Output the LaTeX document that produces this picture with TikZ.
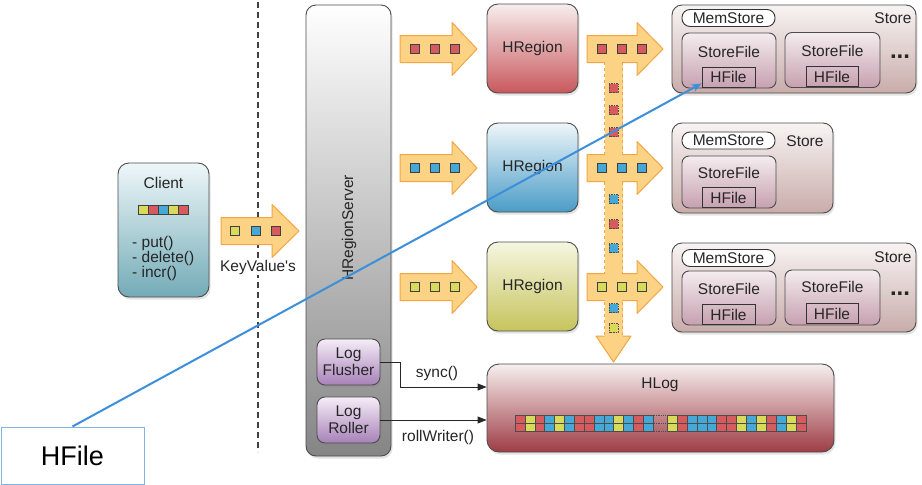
\documentclass[tikz,border=0pt]{standalone}
\usepackage{fontspec}
\setmainfont{Liberation Sans}
\usetikzlibrary{arrows.meta,shadows,calc}
\definecolor{arrfill}{HTML}{FCD385}
\definecolor{arrline}{HTML}{F2A544}
\definecolor{sqR}{HTML}{D65A5E}
\definecolor{sqB}{HTML}{45A8D6}
\definecolor{sqY}{HTML}{DADA5A}
\definecolor{cliT}{HTML}{EEF7F9}
\definecolor{cliB}{HTML}{73ABB7}
\definecolor{hrsB}{HTML}{858585}
\definecolor{logT}{HTML}{F5EDF7}
\definecolor{logB}{HTML}{A781B8}
\definecolor{rRT}{HTML}{F7EDED}
\definecolor{rRB}{HTML}{C8585D}
\definecolor{rBT}{HTML}{EEF6FA}
\definecolor{rBB}{HTML}{4A9CC6}
\definecolor{rYT}{HTML}{F6F6E2}
\definecolor{rYB}{HTML}{C6C45C}
\definecolor{stT}{HTML}{F8F4F3}
\definecolor{stB}{HTML}{C8ACAA}
\definecolor{sfT}{HTML}{F4ECEF}
\definecolor{sfB}{HTML}{C6A0AE}
\definecolor{hlT}{HTML}{F7EFEF}
\definecolor{hlB}{HTML}{9E3D45}
\definecolor{hfB}{HTML}{7FB6E6}
\definecolor{blueln}{HTML}{3D8FDB}
\newcommand\fs{\fontsize{15.5}{17}\selectfont}
\newcommand\fatarrow[4]{%
  \draw[fatarr] (#1,#4-13.5) -- (#2,#4-13.5) -- (#2,#4-26.5) -- (#3,#4) -- (#2,#4+26.5) -- (#2,#4+13.5) -- (#1,#4+13.5) -- cycle;}
\newcommand\csq[3]{\draw[sqr, fill=#3] (#1-4.5,#2-4.5) rectangle (#1+4.5,#2+4.5);}
\newcommand\dsqr[3]{\draw[dsq, fill=#3] (#1-4.5,#2-4.5) rectangle (#1+4.5,#2+4.5);}
\begin{document}
\begin{tikzpicture}[x=1pt,y=-1pt,
  box/.style={draw=black!70, line width=0.9pt, rounded corners=9pt, inner sep=0pt,
    drop shadow={opacity=0.22,shadow xshift=1.5pt,shadow yshift=-2.5pt}},
  lbl/.style={font=\fs, inner sep=0pt, text=black!85},
  fatarr/.style={fill=arrfill, draw=arrline, line width=1pt, line join=round},
  sqr/.style={draw=black!75, line width=0.6pt},
  dsq/.style={draw=black!70, line width=0.6pt, densely dotted},
  cell/.style={draw=black!70, line width=0.4pt},
  conn/.style={-{Triangle[length=9pt,width=7pt]}, line width=0.9pt, draw=black!85},
  store/.style={box, rounded corners=10pt, top color=stT, bottom color=stB},
  sfile/.style={draw=black!70, line width=0.9pt, rounded corners=7pt, inner sep=0pt, top color=sfT, bottom color=sfB},
  hfsmall/.style={draw=black!80, line width=0.9pt, inner sep=0pt, minimum width=53pt, minimum height=20pt, font=\fs, text=black!85},
  pill/.style={draw=black!80, line width=0.9pt, fill=white, rounded corners=8pt, minimum width=93pt, minimum height=17pt, inner sep=0pt, font=\fs, text=black!85},
  region/.style={box, rounded corners=11pt, minimum width=91pt, minimum height=89pt, font=\fs, text=black!85}
]
\useasboundingbox (0,0) rectangle (922,485);
\fill[white] (0,0) rectangle (922,485);

% dashed separator
\draw[black!75, line width=1.1pt, dash pattern=on 6pt off 4pt] (258,2) -- (258,452);

% Client
\node[box, rounded corners=11pt, minimum width=91pt, minimum height=134pt, top color=cliT, bottom color=cliB] (client) at (163.5,230) {};
\node[lbl] (clientT) at (163.5,183) {Client};
\foreach \c [count=\i from 0] in {Y,R,B,Y,R} {\draw[sqr, fill=sq\c] ({138+\i*10},205) rectangle ++(10,9.5);}
\node[lbl, align=left, anchor=west, font={\fontsize{15.5}{15}\selectfont}] (ops) at (132,258) {- put()\\- delete()\\- incr()};

% Client arrow
\fatarrow{221}{272}{299}{231}
\csq{235}{231}{sqY}\csq{255.5}{231}{sqB}\csq{276}{231}{sqR}
\node[lbl, fill=white, inner sep=1pt] (kv) at (258,267) {KeyValue\textquotesingle s};

% HRegionServer
\node[box, rounded corners=10pt, minimum width=85pt, minimum height=451pt, top color=white, bottom color=hrsB] (hrs) at (348.5,230.5) {};
\node[lbl, rotate=90] (hrsT) at (349,228) {HRegionServer};
\node[box, rounded corners=8pt, minimum width=63pt, minimum height=46pt, top color=logT, bottom color=logB, align=center, font=\fs, text=black!85] (lf) at (348.5,362) {Log\\Flusher};
\node[box, rounded corners=8pt, minimum width=63pt, minimum height=46pt, top color=logT, bottom color=logB, align=center, font=\fs, text=black!85] (lr) at (348.5,420) {Log\\Roller};

% arrows to regions
\fatarrow{400}{452}{477}{49}
\fatarrow{400}{452}{477}{168}
\fatarrow{400}{452}{477}{287}
\csq{415}{49}{sqR}\csq{435}{49}{sqR}\csq{455}{49}{sqR}
\csq{415}{168}{sqB}\csq{435}{168}{sqB}\csq{455}{168}{sqB}
\csq{415}{287}{sqY}\csq{435}{287}{sqY}\csq{455}{287}{sqY}

% HRegions
\node[region, top color=rRT, bottom color=rRB] (r1) at (532.5,48.5) {HRegion};
\node[region, top color=rBT, bottom color=rBB] (r2) at (532.5,167.5) {HRegion};
\node[region, top color=rYT, bottom color=rYB] (r3) at (532.5,286.5) {HRegion};

% T arrows with vertical band
\fill[arrfill] (604.5,60) rectangle (622.5,337);
\draw[arrline, line width=1pt, dashed] (604.5,62) -- (604.5,337);
\draw[arrline, line width=1pt, dashed] (622.5,62) -- (622.5,337);
\fatarrow{587}{637}{663}{49}
\fatarrow{587}{637}{663}{168}
\fatarrow{587}{637}{663}{287}
\fill[arrfill] (605,60) rectangle (622,64);
\fill[arrfill] (605,153) rectangle (622,183);
\fill[arrfill] (605,272) rectangle (622,302);
\filldraw[fatarr] (604.5,336) -- (596,336) -- (613.5,362) -- (631,336) -- (622.5,336);
\fill[arrfill] (605,333) rectangle (622,337.5);
\csq{602}{49}{sqR}\csq{622}{49}{sqR}\csq{642}{49}{sqR}
\csq{602}{168}{sqB}\csq{622}{168}{sqB}\csq{642}{168}{sqB}
\csq{602}{287}{sqY}\csq{622}{287}{sqY}\csq{642}{287}{sqY}
\dsqr{613.5}{88}{sqR}\dsqr{613.5}{110}{sqR}\dsqr{613.5}{132}{sqR}
\dsqr{613.5}{199}{sqB}\dsqr{613.5}{224}{sqR}\dsqr{613.5}{248}{sqB}
\dsqr{613.5}{308}{sqB}\dsqr{613.5}{328}{sqY}

% Store 1
\node[store, minimum width=244pt, minimum height=88pt] (s1) at (794,49) {};
\node[pill] (ms1) at (728.5,18) {MemStore};
\node[lbl] (s1T) at (893,18) {Store};
\node[sfile, minimum width=94pt, minimum height=55pt] (sf1a) at (729,60.5) {};
\node[lbl] (sf1aT) at (729,52) {StoreFile};
\node[hfsmall] (hf1a) at (728.5,77) {HFile};
\node[sfile, minimum width=95pt, minimum height=55pt] (sf1b) at (832.5,60) {};
\node[lbl] (sf1bT) at (832.5,51) {StoreFile};
\node[hfsmall, minimum width=52pt] (hf1b) at (832,76.5) {HFile};
\node[lbl, font=\fontsize{24}{24}\selectfont\bfseries] (dots1) at (900,57) {...};

% Store 2
\node[store, minimum width=161pt, minimum height=90pt] (s2) at (752.5,168) {};
\node[pill] (ms2) at (728.5,140.5) {MemStore};
\node[lbl] (s2T) at (805,141) {Store};
\node[sfile, minimum width=94pt, minimum height=52pt] (sf2a) at (729,182) {};
\node[lbl] (sf2aT) at (729,173) {StoreFile};
\node[hfsmall] (hf2a) at (728.5,197.5) {HFile};

% Store 3
\node[store, minimum width=244pt, minimum height=89pt] (s3) at (794,287.5) {};
\node[pill] (ms3) at (728.5,258) {MemStore};
\node[lbl] (s3T) at (893,257) {Store};
\node[sfile, minimum width=94pt, minimum height=54pt] (sf3a) at (729,298) {};
\node[lbl] (sf3aT) at (729,289) {StoreFile};
\node[hfsmall] (hf3a) at (728.5,314.5) {HFile};
\node[sfile, minimum width=95pt, minimum height=55pt] (sf3b) at (832.5,297.5) {};
\node[lbl] (sf3bT) at (832.5,287) {StoreFile};
\node[hfsmall, minimum width=52pt] (hf3b) at (832,313.5) {HFile};
\node[lbl, font=\fontsize{24}{24}\selectfont\bfseries] (dots3) at (900,294) {...};

% HLog
\node[box, rounded corners=12pt, minimum width=347pt, minimum height=88pt, top color=hlT, bottom color=hlB] (hlog) at (660.5,408) {};
\node[lbl] (hlogT) at (660,385) {HLog};
\foreach \c [count=\i from 0] in {R,Y,R,B,Y,B,R,R,B,B,Y,B,R,B} {
  \draw[cell, fill=sq\c] ({515+\i*9.857},415) rectangle ++(9.857,8);
  \draw[cell, fill=sq\c] ({515+\i*9.857},423) rectangle ++(9.857,8);}
\foreach \c [count=\i from 0] in {Y,R,B,B,B,R,R,Y,B,Y,R,B,Y,R} {
  \draw[cell, fill=sq\c] ({667+\i*9.93},415) rectangle ++(9.93,8);
  \draw[cell, fill=sq\c] ({667+\i*9.93},423) rectangle ++(9.93,8);}
\foreach \yy in {415,423,431} {\draw[black!70, line width=0.8pt, densely dotted] (654,\yy) -- (666,\yy);}

% log connectors
\draw[conn] (lf.east) -- ++(20,0) |- ($(hlog.west)+(0,-21)$);
\node[lbl] (synclbl) at (437,373) {sync()};
\draw[conn] (lr.east) -- (lr.east -| hlog.west);
\node[lbl] (rolllbl) at (438,437) {rollWriter()};

% HFile callout
\node[draw=hfB, line width=1pt, minimum width=143pt, minimum height=57pt, inner sep=0pt, font=\fontsize{27}{30}\selectfont, fill=white] (hfbig) at (72.5,455.5) {HFile};
\draw[blueln, line width=2pt, -{Stealth[length=10pt,width=8pt]}] (hfbig.north) -- ($(hf1a.south west)+(0,-4)$);
\end{tikzpicture}
\end{document}
